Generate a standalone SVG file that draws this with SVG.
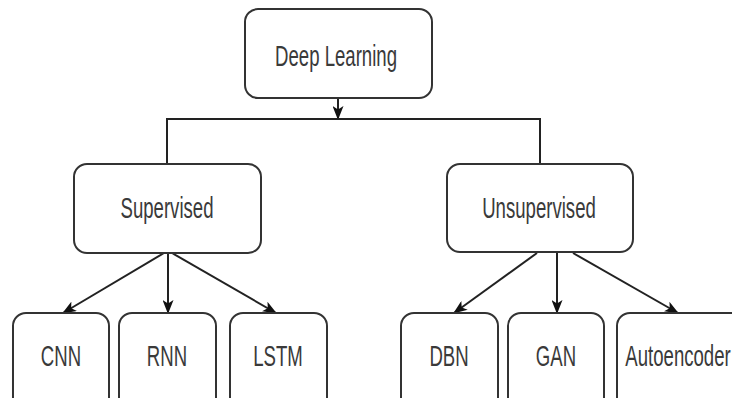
<svg xmlns="http://www.w3.org/2000/svg" width="732" height="398" viewBox="0 0 732 398">
<style>
.box{fill:#fff;stroke:#333;stroke-width:2}
.lbl{font-family:"Liberation Sans",Arial,sans-serif;font-size:30px;fill:#3a3a3a;text-anchor:middle}
.edge{fill:none;stroke:#222;stroke-width:2}
</style>
<defs>
<marker id="ah" viewBox="0 0 14 11" refX="13" refY="5.5" markerWidth="14" markerHeight="11" markerUnits="userSpaceOnUse" orient="auto">
<path d="M0,0 L14,5.5 L0,11 L3.5,5.5 Z" fill="#111"/>
</marker>
</defs>
<rect width="732" height="398" fill="#fff"/>
<g id="connectors">
<path class="edge" d="M338,98 V119" marker-end="url(#ah)"/>
<path class="edge" d="M167,164 V119 H540 V164"/>
<path class="edge" d="M164,253 L63,313" marker-end="url(#ah)"/>
<path class="edge" d="M168,253 V313" marker-end="url(#ah)"/>
<path class="edge" d="M172,253 L276,313" marker-end="url(#ah)"/>
<path class="edge" d="M537,253 L454,313" marker-end="url(#ah)"/>
<path class="edge" d="M557,253 V313" marker-end="url(#ah)"/>
<path class="edge" d="M573,253 L678,313" marker-end="url(#ah)"/>
</g>
<g id="deep-learning">
<rect class="box" x="245" y="9" width="187" height="89" rx="13"/>
<text class="lbl" transform="translate(336,66) scale(0.62,1)">Deep Learning</text>
</g>
<g id="supervised">
<rect class="box" x="74" y="164" width="187" height="89" rx="13"/>
<text class="lbl" transform="translate(167,218) scale(0.62,1)">Supervised</text>
</g>
<g id="unsupervised">
<rect class="box" x="447" y="164" width="186" height="88" rx="13"/>
<text class="lbl" transform="translate(539,218) scale(0.62,1)">Unsupervised</text>
</g>
<g id="cnn">
<rect class="box" x="13" y="313" width="96" height="100" rx="13"/>
<text class="lbl" transform="translate(61,366) scale(0.62,1)">CNN</text>
</g>
<g id="rnn">
<rect class="box" x="119" y="313" width="97" height="100" rx="13"/>
<text class="lbl" transform="translate(167,366) scale(0.62,1)">RNN</text>
</g>
<g id="lstm">
<rect class="box" x="230" y="313" width="97" height="100" rx="13"/>
<text class="lbl" transform="translate(278,366) scale(0.62,1)">LSTM</text>
</g>
<g id="dbn">
<rect class="box" x="401" y="313" width="97" height="100" rx="13"/>
<text class="lbl" transform="translate(449,366) scale(0.62,1)">DBN</text>
</g>
<g id="gan">
<rect class="box" x="508" y="313" width="96" height="100" rx="13"/>
<text class="lbl" transform="translate(556,366) scale(0.62,1)">GAN</text>
</g>
<g id="autoencoder">
<rect class="box" x="617" y="313" width="130" height="100" rx="13"/>
<text class="lbl" transform="translate(678,366) scale(0.62,1)">Autoencoder</text>
</g>
</svg>
